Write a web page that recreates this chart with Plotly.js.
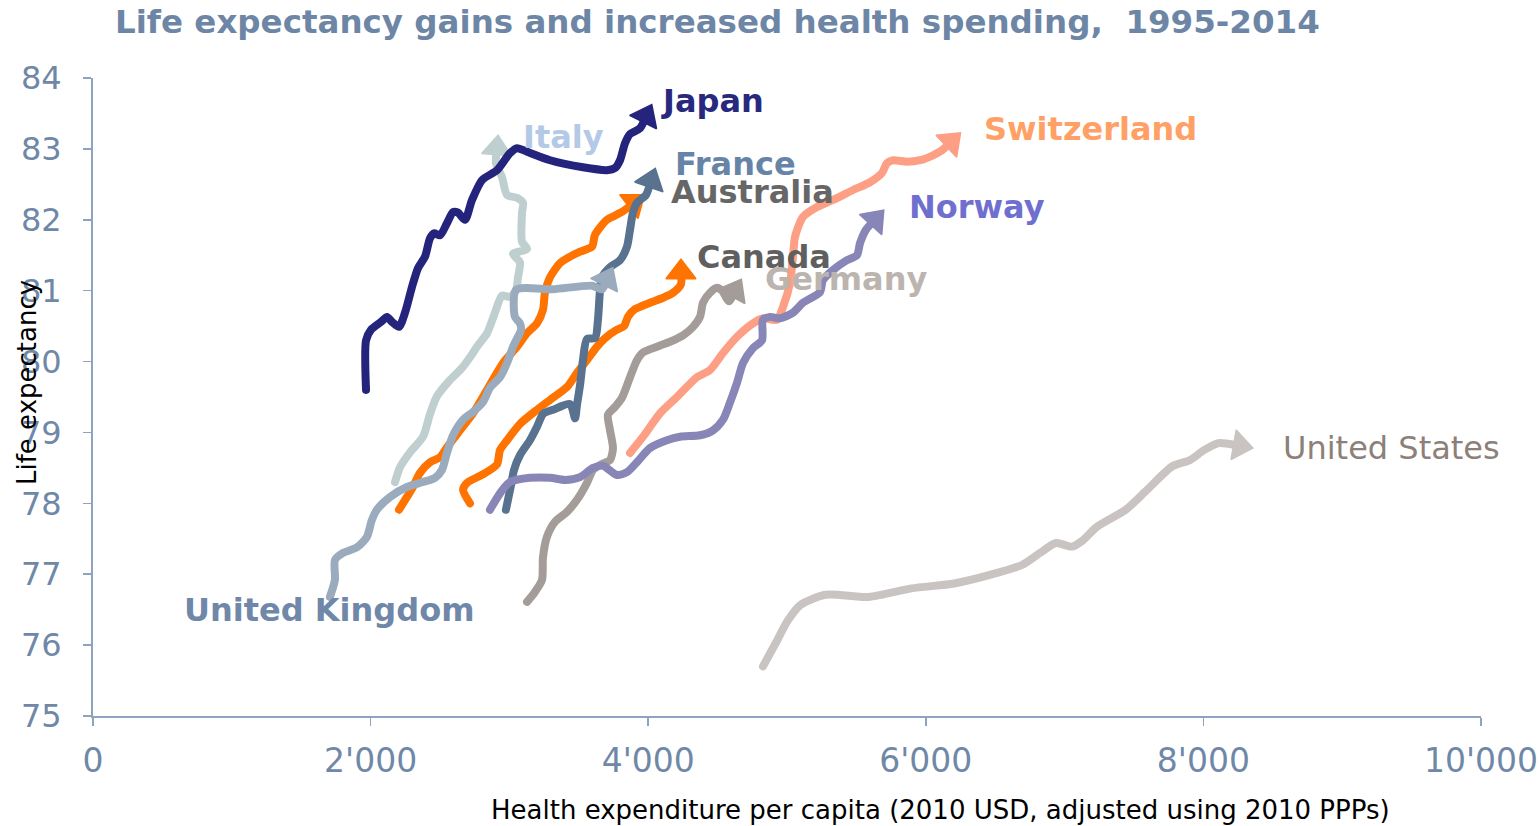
<!DOCTYPE html>
<html><head><meta charset="utf-8">
<script src="https://cdn.plot.ly/plotly-3.0.1.min.js"></script>
<style>
html,body{margin:0;padding:0;background:#fff;}
#chart{width:1540px;height:826px;}
path.js-line{stroke-linecap:round !important;stroke-linejoin:round !important;}
</style>
</head><body><div id="chart"></div>
<script>
// ---------- data (health expenditure per capita, life expectancy), 1995-2014 paths ----------
const countries = ['United States','Italy','Canada','Australia','France','United Kingdom','Japan','Germany','Switzerland','Norway'];

const xUS = [4827,4919,5007,5099,5279,5588,5896,6205,6462,6693,6823,6938,7053,7133,7233,7440,7594,7774,7903,8004,8109,8177,8264];
const yUS = [75.70,76.03,76.35,76.57,76.71,76.68,76.80,76.87,76.99,77.13,77.30,77.44,77.39,77.48,77.67,77.91,78.19,78.52,78.61,78.75,78.85,78.84,78.81];

const xItaly = [2176,2212,2284,2378,2428,2478,2572,2659,2716,2774,2839,2896,2947,3004,3048,3062,3076,3026,3127,3091,3091,3098,3055,2983,2947,2903,2911];
const yItaly = [78.30,78.51,78.72,78.94,79.26,79.51,79.74,79.91,80.06,80.23,80.40,80.69,80.93,80.91,81.01,81.19,81.40,81.52,81.59,81.69,82.10,82.24,82.31,82.35,82.60,82.80,83.01];

const xCanada = [2716,2666,2695,2810,2911,2932,2983,3076,3199,3293,3415,3487,3559,3631,3689,3775,3826,3854,3905,4013,4107,4179,4236,4236];
const yCanada = [78.00,78.19,78.29,78.41,78.55,78.75,78.89,79.12,79.32,79.46,79.64,79.84,80.02,80.21,80.33,80.45,80.50,80.63,80.74,80.83,80.90,80.97,81.09,81.26];

const xAustralia = [2205,2262,2305,2356,2428,2500,2550,2644,2738,2839,2954,3055,3127,3199,3242,3256,3293,3365,3437,3509,3595,3617,3703,3811,3898];
const yAustralia = [77.91,78.09,78.23,78.43,78.58,78.65,78.79,79.03,79.27,79.60,79.98,80.21,80.40,80.54,80.73,80.97,81.19,81.39,81.48,81.55,81.62,81.79,82.00,82.11,82.24];

const xFrance = [2975,3012,3033,3076,3148,3199,3242,3314,3437,3473,3487,3509,3530,3559,3617,3638,3653,3667,3725,3797,3847,3869,3890,3919,3984,4020];
const yFrance = [77.91,78.26,78.47,78.68,78.89,79.08,79.26,79.32,79.40,79.20,79.39,79.67,80.02,80.32,80.33,80.59,81.01,81.19,81.33,81.43,81.62,81.86,82.10,82.24,82.35,82.55];

const xUK = [1707,1743,1743,1801,1902,1974,2010,2046,2140,2262,2378,2464,2514,2550,2594,2666,2738,2810,2860,2932,2983,3026,3084,3076,3040,3048,3314,3595,3667,3703];
const yUK = [76.68,76.92,77.20,77.30,77.38,77.53,77.77,77.91,78.09,78.23,78.30,78.36,78.47,78.71,78.96,79.18,79.29,79.43,79.63,79.78,79.98,80.21,80.45,80.54,80.63,81.01,81.02,81.07,81.02,81.16];

const xJapan = [1967,1967,2003,2075,2118,2154,2205,2248,2298,2342,2392,2428,2457,2500,2550,2594,2630,2680,2731,2803,2911,3004,3055,3127,3293,3530,3703,3761,3797,3833,3869,3941,3984];
const yJapan = [79.60,80.30,80.45,80.56,80.63,80.56,80.49,80.69,81.05,81.32,81.48,81.74,81.81,81.78,81.95,82.11,82.10,82.00,82.28,82.56,82.70,82.94,83.01,82.96,82.84,82.74,82.70,82.73,82.84,83.08,83.21,83.29,83.46];

const xGermany = [3127,3184,3235,3242,3271,3329,3415,3487,3559,3602,3660,3725,3746,3725,3710,3761,3811,3869,3919,3963,4063,4157,4251,4323,4373,4395,4445,4496,4532,4582,4625];
const yGermany = [76.61,76.75,76.92,77.24,77.53,77.74,77.88,78.05,78.29,78.47,78.55,78.61,78.78,79.03,79.25,79.36,79.49,79.78,80.02,80.13,80.21,80.28,80.37,80.49,80.63,80.83,80.97,81.04,81.00,80.85,81.00];

const xSwitzerland = [3869,3963,4085,4207,4352,4445,4539,4640,4755,4827,4928,4971,5022,5043,5058,5115,5216,5331,5476,5598,5684,5720,5764,5865,5958,6052,6117,6182];
const ySwitzerland = [78.71,78.94,79.27,79.50,79.78,79.88,80.12,80.35,80.54,80.61,80.59,80.77,81.11,81.48,81.76,82.04,82.18,82.28,82.42,82.53,82.66,82.80,82.84,82.82,82.84,82.91,82.98,83.10];

const xNorway = [2860,2939,3004,3148,3293,3401,3509,3602,3674,3775,3847,3919,4013,4135,4229,4373,4467,4539,4589,4640,4683,4755,4820,4827,4878,4950,5043,5115,5238,5259,5331,5432,5504,5526,5569,5634];
const yNorway = [77.91,78.16,78.30,78.36,78.36,78.33,78.37,78.50,78.53,78.40,78.44,78.58,78.78,78.89,78.94,78.96,79.03,79.18,79.42,79.70,79.98,80.19,80.30,80.59,80.63,80.61,80.69,80.83,80.98,81.15,81.29,81.43,81.50,81.67,81.86,82.00];

const xTickVals = [0,2000,4000,6000,8000,10000];
const xTickText = ["0","2'000","4'000","6'000","8'000","10'000"];
const yTickVals = [75,76,77,78,79,80,81,82,83,84];
const yTickText = ["75","76","77","78","79","80","81","82","83","84"];

// ---------- styles ----------
const FONT = 'DejaVu Sans, Verdana, sans-serif';
const styles = {
  'United States':  {x:xUS, y:yUS, line:'#c9c4c1', label:'#8d8079', bold:false, lx:8560, ly:78.78},
  'Italy':          {x:xItaly, y:yItaly, line:'#bfcfd0', label:'#b4c9e6', bold:true, lx:3085, ly:83.17},
  'Canada':         {x:xCanada, y:yCanada, line:'#ff7300', label:'#5f5f5f', bold:true, lx:4340, ly:81.48},
  'Australia':      {x:xAustralia, y:yAustralia, line:'#ff7300', label:'#666666', bold:true, lx:4150, ly:82.39},
  'France':         {x:xFrance, y:yFrance, line:'#58728f', label:'#6784a6', bold:true, lx:4180, ly:82.79},
  'United Kingdom': {x:xUK, y:yUK, line:'#9aabbe', label:'#6f87a8', bold:true, lx:640, ly:76.50},
  'Japan':          {x:xJapan, y:yJapan, line:'#25247c', label:'#28287e', bold:true, lx:4080, ly:83.68},
  'Germany':        {x:xGermany, y:yGermany, line:'#a39c99', label:'#bcb4ae', bold:true, lx:4828, ly:81.16},
  'Switzerland':    {x:xSwitzerland, y:ySwitzerland, line:'#fd9f84', label:'#ffa066', bold:true, lx:6405, ly:83.28},
  'Norway':         {x:xNorway, y:yNorway, line:'#8786b6', label:'#6f6fd0', bold:true, lx:5865, ly:82.18}
};

const traces = countries.map(name => {
  const s = styles[name];
  const n = s.x.length;
  return {
    type:'scatter', mode:'lines+markers', name:name, x:s.x, y:s.y,
    line:{color:s.line, width:8, shape:'spline', smoothing:0.7},
    marker:{symbol:'triangle-up', angleref:'previous', opacity:1,
            size:s.x.map((v,i)=> i===n-1 ? 26 : 0),
            color:s.line, line:{color:s.line, width:1.5}},
    hoverinfo:'skip', cliponaxis:false, showlegend:false
  };
});

const annotations = countries.map(name => {
  const s = styles[name];
  return {x:s.lx, y:s.ly, xref:'x', yref:'y', text:name, showarrow:false,
          xanchor:'left', yanchor:'middle',
          font:{family:FONT, size:32, color:s.label, weight:s.bold?700:400}};
});
// axis titles (placed like the reference, off-centre)
annotations.push({x:(941-93)/1388, y:(716-810)/638, xref:'paper', yref:'paper',
  text:'Health expenditure per capita (2010 USD, adjusted using 2010 PPPs)',
  showarrow:false, xanchor:'center', yanchor:'middle', font:{family:FONT, size:26, color:'#000000'}});
annotations.push({x:(27-93)/1388, y:(716-383)/638, xref:'paper', yref:'paper',
  text:'Life expectancy', textangle:-90,
  showarrow:false, xanchor:'center', yanchor:'middle', font:{family:FONT, size:26, color:'#000000'}});

const axisCommon = {
  ticks:'outside', ticklen:8, tickwidth:1.5, tickcolor:'#8ea3bd',
  showline:true, linecolor:'#8ea3bd', linewidth:2,
  showgrid:false, zeroline:false, fixedrange:true,
  tickfont:{family:FONT, size:33, color:'#6f88a8'}
};

const layout = {
  width:1540, height:826,
  margin:{l:93, r:59, t:78, b:110, pad:0},
  paper_bgcolor:'#ffffff', plot_bgcolor:'#ffffff',
  font:{family:FONT},
  showlegend:false, hovermode:false,
  title:{text:'Life expectancy gains and increased health spending, \u00a01995-2014',
         font:{family:FONT, size:32.5, color:'#6d86a6', weight:700},
         x:115/1540, xref:'container', xanchor:'left',
         y:1-22/826, yref:'container', yanchor:'middle'},
  xaxis:Object.assign({}, axisCommon, {range:[0,10000], tickvals:xTickVals, ticktext:xTickText, ticklabelstandoff:6}),
  yaxis:Object.assign({}, axisCommon, {range:[75,84], tickvals:yTickVals, ticktext:yTickText, ticklabelstandoff:15,
         tickfont:{family:FONT, size:32, color:'#6f88a8'}}),
  annotations:annotations
};

Plotly.newPlot('chart', traces, layout, {displayModeBar:false, staticPlot:true});
</script>
</body></html>
